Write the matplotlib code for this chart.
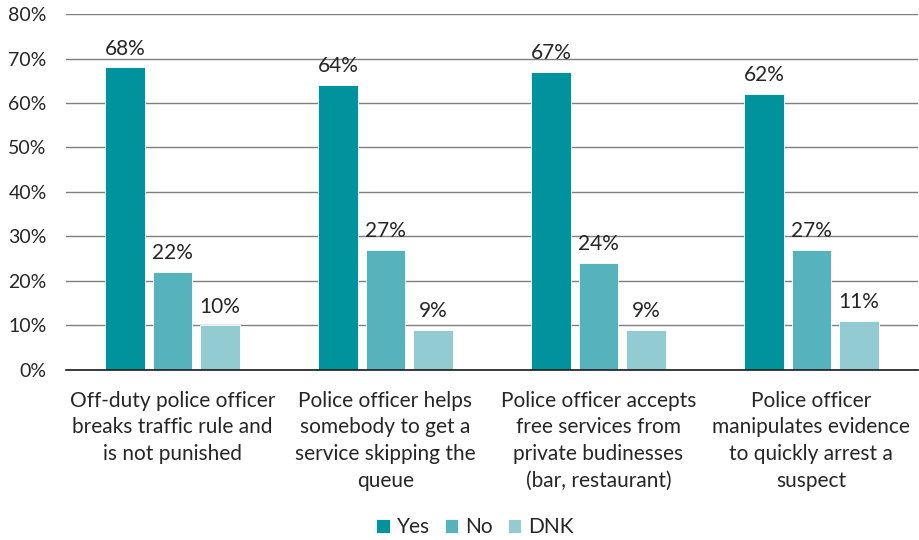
import matplotlib
matplotlib.use("Agg")
import matplotlib.pyplot as plt
import numpy as np

categories = [
    "Off-duty police officer\nbreaks traffic rule and\nis not punished",
    "Police officer helps\nsomebody to get a\nservice skipping the\nqueue",
    "Police officer accepts\nfree services from\nprivate budinesses\n(bar, restaurant)",
    "Police officer\nmanipulates evidence\nto quickly arrest a\nsuspect",
]
series_names = ["Yes", "No", "DNK"]
yes = [68, 64, 67, 62]
no = [22, 27, 24, 27]
dnk = [10, 9, 9, 11]
y_ticks = [0, 10, 20, 30, 40, 50, 60, 70, 80]

colors = ["#00939E", "#56B2BC", "#93CBD3"]
text_color = "#262626"
fs = 15

plt.rcParams["font.family"] = ["Lato", "DejaVu Sans"]

fig = plt.figure(figsize=(9.19, 5.4), dpi=100)
ax = fig.add_axes([0.0718, 0.315, 0.927, 0.659])

x = np.arange(len(categories))
step = 0.223
width = 0.185
for i, (name, vals) in enumerate(zip(series_names, [yes, no, dnk])):
    pos = x + (i - 1) * step
    ax.bar(pos, vals, width=width, color=colors[i], edgecolor="white",
           linewidth=0.6, label=name, zorder=3)
    for p, v in zip(pos, vals):
        ax.text(p, v + 2.0, f"{v}%", ha="center", va="bottom",
                fontsize=fs, color=text_color)

ax.set_xlim(-0.5, len(categories) - 0.5)
ax.set_ylim(0, 80)
ax.set_yticks(y_ticks)
ax.set_yticklabels([f"{t}%" for t in y_ticks], fontsize=14, color=text_color)
ax.yaxis.grid(True, color="#7f7f7f", linewidth=1.0, zorder=0)
ax.set_axisbelow(True)
ax.tick_params(axis="y", length=0, pad=14)
ax.tick_params(axis="x", length=0, pad=15)
ax.set_xticks(x)
ax.set_xticklabels(categories, fontsize=fs, color=text_color, linespacing=1.42)
for s in ["left", "right", "top"]:
    ax.spines[s].set_visible(False)
ax.spines["bottom"].set_color("#1a1a1a")
ax.spines["bottom"].set_linewidth(1.2)
ax.spines["bottom"].set_zorder(4)

leg = fig.legend(loc="lower center", bbox_to_anchor=(0.517, -0.03), ncol=3,
                 frameon=False, fontsize=fs, handlelength=0.65,
                 handleheight=0.65, handletextpad=0.35, columnspacing=0.7)
for t in leg.get_texts():
    t.set_color(text_color)

fig.savefig("out.png", dpi=100)
